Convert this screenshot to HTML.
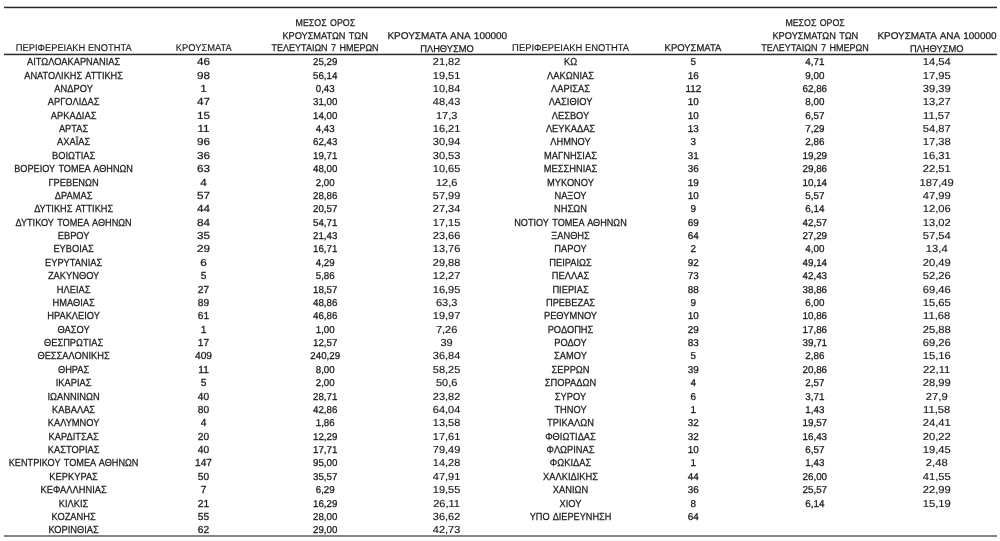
<!DOCTYPE html><html><head><meta charset="utf-8"><style>html,body{margin:0;padding:0;background:#fff;width:1000px;height:541px;overflow:hidden}svg{display:block;will-change:transform}text{font-family:"Liberation Sans",sans-serif;fill:#1a1a1a;stroke:#1a1a1a;text-anchor:middle;text-rendering:geometricPrecision}</style></head><body>
<svg width="1000" height="541" viewBox="0 0 1000 541">
<rect x="4" y="6.7" width="993" height="1.5" fill="#2a2a2a"/>
<rect x="4" y="53.7" width="993" height="1.5" fill="#2a2a2a"/>
<rect x="4" y="535" width="993" height="2" fill="#858585"/>
<text x="73.75" y="51.40" font-size="9.80" stroke-width="0.15" textLength="115.80" lengthAdjust="spacingAndGlyphs">ΠΕΡΙΦΕΡΕΙΑΚΗ ΕΝΟΤΗΤΑ</text>
<text x="203.75" y="51.40" font-size="9.80" stroke-width="0.15" textLength="55.80" lengthAdjust="spacingAndGlyphs">ΚΡΟΥΣΜΑΤΑ</text>
<text x="325.40" y="25.70" font-size="9.80" stroke-width="0.25" word-spacing="1.00" textLength="59.60" lengthAdjust="spacingAndGlyphs">ΜΕΣΟΣ ΟΡΟΣ</text>
<text x="325.10" y="38.70" font-size="9.80" stroke-width="0.25" word-spacing="1.00" textLength="85.40" lengthAdjust="spacingAndGlyphs">ΚΡΟΥΣΜΑΤΩΝ ΤΩΝ</text>
<text x="325.10" y="51.20" font-size="9.80" stroke-width="0.25" word-spacing="1.00" textLength="107.00" lengthAdjust="spacingAndGlyphs">ΤΕΛΕΥΤΑΙΩΝ 7 ΗΜΕΡΩΝ</text>
<text x="447.30" y="39.00" font-size="9.80" stroke-width="0.25" word-spacing="1.00" textLength="119.80" lengthAdjust="spacingAndGlyphs">ΚΡΟΥΣΜΑΤΑ ΑΝΑ 100000</text>
<text x="447.00" y="51.60" font-size="9.80" stroke-width="0.25" word-spacing="1.00" textLength="53.60" lengthAdjust="spacingAndGlyphs">ΠΛΗΘΥΣΜΟ</text>
<text x="570.62" y="51.40" font-size="9.80" stroke-width="0.15" textLength="117.05" lengthAdjust="spacingAndGlyphs">ΠΕΡΙΦΕΡΕΙΑΚΗ ΕΝΟΤΗΤΑ</text>
<text x="693.00" y="51.40" font-size="9.80" stroke-width="0.25" word-spacing="1.00" textLength="56.80" lengthAdjust="spacingAndGlyphs">ΚΡΟΥΣΜΑΤΑ</text>
<text x="815.05" y="25.70" font-size="9.80" stroke-width="0.25" word-spacing="1.00" textLength="59.30" lengthAdjust="spacingAndGlyphs">ΜΕΣΟΣ ΟΡΟΣ</text>
<text x="815.35" y="38.70" font-size="9.80" stroke-width="0.25" word-spacing="1.00" textLength="85.90" lengthAdjust="spacingAndGlyphs">ΚΡΟΥΣΜΑΤΩΝ ΤΩΝ</text>
<text x="815.00" y="51.00" font-size="9.80" stroke-width="0.25" word-spacing="1.00" textLength="107.40" lengthAdjust="spacingAndGlyphs">ΤΕΛΕΥΤΑΙΩΝ 7 ΗΜΕΡΩΝ</text>
<text x="936.95" y="39.00" font-size="9.80" stroke-width="0.25" word-spacing="1.00" textLength="119.10" lengthAdjust="spacingAndGlyphs">ΚΡΟΥΣΜΑΤΑ ΑΝΑ 100000</text>
<text x="936.65" y="51.60" font-size="9.80" stroke-width="0.25" word-spacing="1.00" textLength="53.50" lengthAdjust="spacingAndGlyphs">ΠΛΗΘΥΣΜΟ</text>
<text transform="translate(73.60 65.20) scale(0.9130 1)" font-size="10.20" stroke-width="0.25">ΑΙΤΩΛΟΑΚΑΡΝΑΝΙΑΣ</text>
<text transform="translate(203.50 65.20) scale(1.1500 1)" font-size="10.20" stroke-width="0.22">46</text>
<text transform="translate(325.20 65.20) scale(0.9700 1)" font-size="10.00" stroke-width="0.28">25,29</text>
<text transform="translate(446.60 65.20) scale(1.0800 1)" font-size="10.20" stroke-width="0.15">21,82</text>
<text transform="translate(73.60 78.58) scale(0.9032 1)" font-size="10.20" stroke-width="0.25" word-spacing="1.20">ΑΝΑΤΟΛΙΚΗΣ ΑΤΤΙΚΗΣ</text>
<text transform="translate(203.50 78.58) scale(1.1500 1)" font-size="10.20" stroke-width="0.22">98</text>
<text transform="translate(325.20 78.58) scale(0.9700 1)" font-size="10.00" stroke-width="0.28">56,14</text>
<text transform="translate(446.60 78.58) scale(1.0800 1)" font-size="10.20" stroke-width="0.15">19,51</text>
<text transform="translate(73.60 91.95) scale(0.9130 1)" font-size="10.20" stroke-width="0.25">ΑΝΔΡΟΥ</text>
<text transform="translate(203.50 91.95) scale(1.1500 1)" font-size="10.20" stroke-width="0.22">1</text>
<text transform="translate(325.20 91.95) scale(0.9700 1)" font-size="10.00" stroke-width="0.28">0,43</text>
<text transform="translate(446.60 91.95) scale(1.0800 1)" font-size="10.20" stroke-width="0.15">10,84</text>
<text transform="translate(73.60 105.33) scale(0.9130 1)" font-size="10.20" stroke-width="0.25">ΑΡΓΟΛΙΔΑΣ</text>
<text transform="translate(203.50 105.33) scale(1.1500 1)" font-size="10.20" stroke-width="0.22">47</text>
<text transform="translate(325.20 105.33) scale(0.9700 1)" font-size="10.00" stroke-width="0.28">31,00</text>
<text transform="translate(446.60 105.33) scale(1.0800 1)" font-size="10.20" stroke-width="0.15">48,43</text>
<text transform="translate(73.60 118.70) scale(0.9130 1)" font-size="10.20" stroke-width="0.25">ΑΡΚΑΔΙΑΣ</text>
<text transform="translate(203.50 118.70) scale(1.1500 1)" font-size="10.20" stroke-width="0.22">15</text>
<text transform="translate(325.20 118.70) scale(0.9700 1)" font-size="10.00" stroke-width="0.28">14,00</text>
<text transform="translate(446.60 118.70) scale(1.0800 1)" font-size="10.20" stroke-width="0.15">17,3</text>
<text transform="translate(73.60 132.07) scale(0.9130 1)" font-size="10.20" stroke-width="0.25">ΑΡΤΑΣ</text>
<text transform="translate(203.50 132.07) scale(1.1500 1)" font-size="10.20" stroke-width="0.22">11</text>
<text transform="translate(325.20 132.07) scale(0.9700 1)" font-size="10.00" stroke-width="0.28">4,43</text>
<text transform="translate(446.60 132.07) scale(1.0800 1)" font-size="10.20" stroke-width="0.15">16,21</text>
<text transform="translate(73.60 145.45) scale(0.9130 1)" font-size="10.20" stroke-width="0.25">ΑΧΑΪΑΣ</text>
<text transform="translate(203.50 145.45) scale(1.1500 1)" font-size="10.20" stroke-width="0.22">96</text>
<text transform="translate(325.20 145.45) scale(0.9700 1)" font-size="10.00" stroke-width="0.28">62,43</text>
<text transform="translate(446.60 145.45) scale(1.0800 1)" font-size="10.20" stroke-width="0.15">30,94</text>
<text transform="translate(73.60 158.82) scale(0.9130 1)" font-size="10.20" stroke-width="0.25">ΒΟΙΩΤΙΑΣ</text>
<text transform="translate(203.50 158.82) scale(1.1500 1)" font-size="10.20" stroke-width="0.22">36</text>
<text transform="translate(325.20 158.82) scale(0.9700 1)" font-size="10.00" stroke-width="0.28">19,71</text>
<text transform="translate(446.60 158.82) scale(1.0800 1)" font-size="10.20" stroke-width="0.15">30,53</text>
<text transform="translate(73.60 172.20) scale(0.8967 1)" font-size="10.20" stroke-width="0.25" word-spacing="1.20">ΒΟΡΕΙΟΥ ΤΟΜΕΑ ΑΘΗΝΩΝ</text>
<text transform="translate(203.50 172.20) scale(1.1500 1)" font-size="10.20" stroke-width="0.22">63</text>
<text transform="translate(325.20 172.20) scale(0.9700 1)" font-size="10.00" stroke-width="0.28">48,00</text>
<text transform="translate(446.60 172.20) scale(1.0800 1)" font-size="10.20" stroke-width="0.15">10,65</text>
<text transform="translate(73.60 185.57) scale(0.9130 1)" font-size="10.20" stroke-width="0.25">ΓΡΕΒΕΝΩΝ</text>
<text transform="translate(203.50 185.57) scale(1.1500 1)" font-size="10.20" stroke-width="0.22">4</text>
<text transform="translate(325.20 185.57) scale(0.9700 1)" font-size="10.00" stroke-width="0.28">2,00</text>
<text transform="translate(446.60 185.57) scale(1.0800 1)" font-size="10.20" stroke-width="0.15">12,6</text>
<text transform="translate(73.60 198.95) scale(0.9130 1)" font-size="10.20" stroke-width="0.25">ΔΡΑΜΑΣ</text>
<text transform="translate(203.50 198.95) scale(1.1500 1)" font-size="10.20" stroke-width="0.22">57</text>
<text transform="translate(325.20 198.95) scale(0.9700 1)" font-size="10.00" stroke-width="0.28">28,86</text>
<text transform="translate(446.60 198.95) scale(1.0800 1)" font-size="10.20" stroke-width="0.15">57,99</text>
<text transform="translate(73.60 212.32) scale(0.9008 1)" font-size="10.20" stroke-width="0.25" word-spacing="1.20">ΔΥΤΙΚΗΣ ΑΤΤΙΚΗΣ</text>
<text transform="translate(203.50 212.32) scale(1.1500 1)" font-size="10.20" stroke-width="0.22">44</text>
<text transform="translate(325.20 212.32) scale(0.9700 1)" font-size="10.00" stroke-width="0.28">20,57</text>
<text transform="translate(446.60 212.32) scale(1.0800 1)" font-size="10.20" stroke-width="0.15">27,34</text>
<text transform="translate(73.60 225.70) scale(0.8965 1)" font-size="10.20" stroke-width="0.25" word-spacing="1.20">ΔΥΤΙΚΟΥ ΤΟΜΕΑ ΑΘΗΝΩΝ</text>
<text transform="translate(203.50 225.70) scale(1.1500 1)" font-size="10.20" stroke-width="0.22">84</text>
<text transform="translate(325.20 225.70) scale(0.9700 1)" font-size="10.00" stroke-width="0.28">54,71</text>
<text transform="translate(446.60 225.70) scale(1.0800 1)" font-size="10.20" stroke-width="0.15">17,15</text>
<text transform="translate(73.60 239.07) scale(0.9130 1)" font-size="10.20" stroke-width="0.25">ΕΒΡΟΥ</text>
<text transform="translate(203.50 239.07) scale(1.1500 1)" font-size="10.20" stroke-width="0.22">35</text>
<text transform="translate(325.20 239.07) scale(0.9700 1)" font-size="10.00" stroke-width="0.28">21,43</text>
<text transform="translate(446.60 239.07) scale(1.0800 1)" font-size="10.20" stroke-width="0.15">23,66</text>
<text transform="translate(73.60 252.45) scale(0.9130 1)" font-size="10.20" stroke-width="0.25">ΕΥΒΟΙΑΣ</text>
<text transform="translate(203.50 252.45) scale(1.1500 1)" font-size="10.20" stroke-width="0.22">29</text>
<text transform="translate(325.20 252.45) scale(0.9700 1)" font-size="10.00" stroke-width="0.28">16,71</text>
<text transform="translate(446.60 252.45) scale(1.0800 1)" font-size="10.20" stroke-width="0.15">13,76</text>
<text transform="translate(73.60 265.82) scale(0.9130 1)" font-size="10.20" stroke-width="0.25">ΕΥΡΥΤΑΝΙΑΣ</text>
<text transform="translate(203.50 265.82) scale(1.1500 1)" font-size="10.20" stroke-width="0.22">6</text>
<text transform="translate(325.20 265.82) scale(0.9700 1)" font-size="10.00" stroke-width="0.28">4,29</text>
<text transform="translate(446.60 265.82) scale(1.0800 1)" font-size="10.20" stroke-width="0.15">29,88</text>
<text transform="translate(73.60 279.20) scale(0.9130 1)" font-size="10.20" stroke-width="0.25">ΖΑΚΥΝΘΟΥ</text>
<text transform="translate(203.50 279.20) scale(1.0000 1)" font-size="10.20" stroke-width="0.28">5</text>
<text transform="translate(325.20 279.20) scale(0.9700 1)" font-size="10.00" stroke-width="0.28">5,86</text>
<text transform="translate(446.60 279.20) scale(1.0800 1)" font-size="10.20" stroke-width="0.15">12,27</text>
<text transform="translate(73.60 292.57) scale(0.9130 1)" font-size="10.20" stroke-width="0.25">ΗΛΕΙΑΣ</text>
<text transform="translate(203.50 292.57) scale(1.0000 1)" font-size="10.20" stroke-width="0.28">27</text>
<text transform="translate(325.20 292.57) scale(0.9700 1)" font-size="10.00" stroke-width="0.28">18,57</text>
<text transform="translate(446.60 292.57) scale(1.0800 1)" font-size="10.20" stroke-width="0.15">16,95</text>
<text transform="translate(73.60 305.95) scale(0.9130 1)" font-size="10.20" stroke-width="0.25">ΗΜΑΘΙΑΣ</text>
<text transform="translate(203.50 305.95) scale(1.0000 1)" font-size="10.20" stroke-width="0.28">89</text>
<text transform="translate(325.20 305.95) scale(0.9700 1)" font-size="10.00" stroke-width="0.28">48,86</text>
<text transform="translate(446.60 305.95) scale(1.0800 1)" font-size="10.20" stroke-width="0.15">63,3</text>
<text transform="translate(73.60 319.32) scale(0.9130 1)" font-size="10.20" stroke-width="0.25">ΗΡΑΚΛΕΙΟΥ</text>
<text transform="translate(203.50 319.32) scale(1.0000 1)" font-size="10.20" stroke-width="0.28">61</text>
<text transform="translate(325.20 319.32) scale(0.9700 1)" font-size="10.00" stroke-width="0.28">46,86</text>
<text transform="translate(446.60 319.32) scale(1.0800 1)" font-size="10.20" stroke-width="0.15">19,97</text>
<text transform="translate(73.60 332.70) scale(0.9130 1)" font-size="10.20" stroke-width="0.25">ΘΑΣΟΥ</text>
<text transform="translate(203.50 332.70) scale(1.0000 1)" font-size="10.20" stroke-width="0.28">1</text>
<text transform="translate(325.20 332.70) scale(0.9700 1)" font-size="10.00" stroke-width="0.28">1,00</text>
<text transform="translate(446.60 332.70) scale(1.0800 1)" font-size="10.20" stroke-width="0.15">7,26</text>
<text transform="translate(73.60 346.07) scale(0.9130 1)" font-size="10.20" stroke-width="0.25">ΘΕΣΠΡΩΤΙΑΣ</text>
<text transform="translate(203.50 346.07) scale(1.0000 1)" font-size="10.20" stroke-width="0.28">17</text>
<text transform="translate(325.20 346.07) scale(0.9700 1)" font-size="10.00" stroke-width="0.28">12,57</text>
<text transform="translate(446.60 346.07) scale(1.0800 1)" font-size="10.20" stroke-width="0.15">39</text>
<text transform="translate(73.60 359.45) scale(0.9130 1)" font-size="10.20" stroke-width="0.25">ΘΕΣΣΑΛΟΝΙΚΗΣ</text>
<text transform="translate(203.50 359.45) scale(1.0000 1)" font-size="10.20" stroke-width="0.28">409</text>
<text transform="translate(325.20 359.45) scale(0.9700 1)" font-size="10.00" stroke-width="0.28">240,29</text>
<text transform="translate(446.60 359.45) scale(1.0800 1)" font-size="10.20" stroke-width="0.15">36,84</text>
<text transform="translate(73.60 372.82) scale(0.9130 1)" font-size="10.20" stroke-width="0.25">ΘΗΡΑΣ</text>
<text transform="translate(203.50 372.82) scale(1.0000 1)" font-size="10.20" stroke-width="0.28">11</text>
<text transform="translate(325.20 372.82) scale(0.9700 1)" font-size="10.00" stroke-width="0.28">8,00</text>
<text transform="translate(446.60 372.82) scale(1.0800 1)" font-size="10.20" stroke-width="0.15">58,25</text>
<text transform="translate(73.60 386.20) scale(0.9130 1)" font-size="10.20" stroke-width="0.25">ΙΚΑΡΙΑΣ</text>
<text transform="translate(203.50 386.20) scale(1.0000 1)" font-size="10.20" stroke-width="0.28">5</text>
<text transform="translate(325.20 386.20) scale(0.9700 1)" font-size="10.00" stroke-width="0.28">2,00</text>
<text transform="translate(446.60 386.20) scale(1.0800 1)" font-size="10.20" stroke-width="0.15">50,6</text>
<text transform="translate(73.60 399.57) scale(0.9130 1)" font-size="10.20" stroke-width="0.25">ΙΩΑΝΝΙΝΩΝ</text>
<text transform="translate(203.50 399.57) scale(1.0000 1)" font-size="10.20" stroke-width="0.28">40</text>
<text transform="translate(325.20 399.57) scale(0.9700 1)" font-size="10.00" stroke-width="0.28">28,71</text>
<text transform="translate(446.60 399.57) scale(1.0800 1)" font-size="10.20" stroke-width="0.15">23,82</text>
<text transform="translate(73.60 412.95) scale(0.9130 1)" font-size="10.20" stroke-width="0.25">ΚΑΒΑΛΑΣ</text>
<text transform="translate(203.50 412.95) scale(1.0000 1)" font-size="10.20" stroke-width="0.28">80</text>
<text transform="translate(325.20 412.95) scale(0.9700 1)" font-size="10.00" stroke-width="0.28">42,86</text>
<text transform="translate(446.60 412.95) scale(1.0800 1)" font-size="10.20" stroke-width="0.15">64,04</text>
<text transform="translate(73.60 426.32) scale(0.9130 1)" font-size="10.20" stroke-width="0.25">ΚΑΛΥΜΝΟΥ</text>
<text transform="translate(203.50 426.32) scale(1.0000 1)" font-size="10.20" stroke-width="0.28">4</text>
<text transform="translate(325.20 426.32) scale(0.9700 1)" font-size="10.00" stroke-width="0.28">1,86</text>
<text transform="translate(446.60 426.32) scale(1.0800 1)" font-size="10.20" stroke-width="0.15">13,58</text>
<text transform="translate(73.60 439.70) scale(0.9130 1)" font-size="10.20" stroke-width="0.25">ΚΑΡΔΙΤΣΑΣ</text>
<text transform="translate(203.50 439.70) scale(1.0000 1)" font-size="10.20" stroke-width="0.28">20</text>
<text transform="translate(325.20 439.70) scale(0.9700 1)" font-size="10.00" stroke-width="0.28">12,29</text>
<text transform="translate(446.60 439.70) scale(1.0800 1)" font-size="10.20" stroke-width="0.15">17,61</text>
<text transform="translate(73.60 453.07) scale(0.9130 1)" font-size="10.20" stroke-width="0.25">ΚΑΣΤΟΡΙΑΣ</text>
<text transform="translate(203.50 453.07) scale(1.0000 1)" font-size="10.20" stroke-width="0.28">40</text>
<text transform="translate(325.20 453.07) scale(0.9700 1)" font-size="10.00" stroke-width="0.28">17,71</text>
<text transform="translate(446.60 453.07) scale(1.0800 1)" font-size="10.20" stroke-width="0.15">79,49</text>
<text transform="translate(73.60 466.45) scale(0.8981 1)" font-size="10.20" stroke-width="0.25" word-spacing="1.20">ΚΕΝΤΡΙΚΟΥ ΤΟΜΕΑ ΑΘΗΝΩΝ</text>
<text transform="translate(203.50 466.45) scale(1.0000 1)" font-size="10.20" stroke-width="0.28">147</text>
<text transform="translate(325.20 466.45) scale(0.9700 1)" font-size="10.00" stroke-width="0.28">95,00</text>
<text transform="translate(446.60 466.45) scale(1.0800 1)" font-size="10.20" stroke-width="0.15">14,28</text>
<text transform="translate(73.60 479.82) scale(0.9130 1)" font-size="10.20" stroke-width="0.25">ΚΕΡΚΥΡΑΣ</text>
<text transform="translate(203.50 479.82) scale(1.0000 1)" font-size="10.20" stroke-width="0.28">50</text>
<text transform="translate(325.20 479.82) scale(0.9700 1)" font-size="10.00" stroke-width="0.28">35,57</text>
<text transform="translate(446.60 479.82) scale(1.0800 1)" font-size="10.20" stroke-width="0.15">47,91</text>
<text transform="translate(73.60 493.20) scale(0.9130 1)" font-size="10.20" stroke-width="0.25">ΚΕΦΑΛΛΗΝΙΑΣ</text>
<text transform="translate(203.50 493.20) scale(1.0000 1)" font-size="10.20" stroke-width="0.28">7</text>
<text transform="translate(325.20 493.20) scale(0.9700 1)" font-size="10.00" stroke-width="0.28">6,29</text>
<text transform="translate(446.60 493.20) scale(1.0800 1)" font-size="10.20" stroke-width="0.15">19,55</text>
<text transform="translate(73.60 506.57) scale(0.9130 1)" font-size="10.20" stroke-width="0.25">ΚΙΛΚΙΣ</text>
<text transform="translate(203.50 506.57) scale(1.0000 1)" font-size="10.20" stroke-width="0.28">21</text>
<text transform="translate(325.20 506.57) scale(0.9700 1)" font-size="10.00" stroke-width="0.28">16,29</text>
<text transform="translate(446.60 506.57) scale(1.0800 1)" font-size="10.20" stroke-width="0.15">26,11</text>
<text transform="translate(73.60 519.95) scale(0.9130 1)" font-size="10.20" stroke-width="0.25">ΚΟΖΑΝΗΣ</text>
<text transform="translate(203.50 519.95) scale(1.0000 1)" font-size="10.20" stroke-width="0.28">55</text>
<text transform="translate(325.20 519.95) scale(0.9700 1)" font-size="10.00" stroke-width="0.28">28,00</text>
<text transform="translate(446.60 519.95) scale(1.0800 1)" font-size="10.20" stroke-width="0.15">36,62</text>
<text transform="translate(73.60 533.33) scale(0.9130 1)" font-size="10.20" stroke-width="0.25">ΚΟΡΙΝΘΙΑΣ</text>
<text transform="translate(203.50 533.33) scale(1.0000 1)" font-size="10.20" stroke-width="0.28">62</text>
<text transform="translate(325.20 533.33) scale(0.9700 1)" font-size="10.00" stroke-width="0.28">29,00</text>
<text transform="translate(446.60 533.33) scale(1.0800 1)" font-size="10.20" stroke-width="0.15">42,73</text>
<text transform="translate(570.50 65.20) scale(0.9130 1)" font-size="10.20" stroke-width="0.25">ΚΩ</text>
<text transform="translate(693.30 65.20) scale(0.9900 1)" font-size="10.00" stroke-width="0.28">5</text>
<text transform="translate(814.80 65.20) scale(0.9800 1)" font-size="10.00" stroke-width="0.28">4,71</text>
<text transform="translate(936.70 65.20) scale(1.1000 1)" font-size="10.20" stroke-width="0.15">14,54</text>
<text transform="translate(570.50 78.58) scale(0.9130 1)" font-size="10.20" stroke-width="0.25">ΛΑΚΩΝΙΑΣ</text>
<text transform="translate(693.30 78.58) scale(0.9900 1)" font-size="10.00" stroke-width="0.28">16</text>
<text transform="translate(814.80 78.58) scale(0.9800 1)" font-size="10.00" stroke-width="0.28">9,00</text>
<text transform="translate(936.70 78.58) scale(1.1000 1)" font-size="10.20" stroke-width="0.15">17,95</text>
<text transform="translate(570.50 91.95) scale(0.9130 1)" font-size="10.20" stroke-width="0.25">ΛΑΡΙΣΑΣ</text>
<text transform="translate(693.30 91.95) scale(0.9900 1)" font-size="10.00" stroke-width="0.28">112</text>
<text transform="translate(814.80 91.95) scale(0.9800 1)" font-size="10.00" stroke-width="0.28">62,86</text>
<text transform="translate(936.70 91.95) scale(1.1000 1)" font-size="10.20" stroke-width="0.15">39,39</text>
<text transform="translate(570.50 105.33) scale(0.9130 1)" font-size="10.20" stroke-width="0.25">ΛΑΣΙΘΙΟΥ</text>
<text transform="translate(693.30 105.33) scale(0.9900 1)" font-size="10.00" stroke-width="0.28">10</text>
<text transform="translate(814.80 105.33) scale(0.9800 1)" font-size="10.00" stroke-width="0.28">8,00</text>
<text transform="translate(936.70 105.33) scale(1.1000 1)" font-size="10.20" stroke-width="0.15">13,27</text>
<text transform="translate(570.50 118.70) scale(0.9130 1)" font-size="10.20" stroke-width="0.25">ΛΕΣΒΟΥ</text>
<text transform="translate(693.30 118.70) scale(0.9900 1)" font-size="10.00" stroke-width="0.28">10</text>
<text transform="translate(814.80 118.70) scale(0.9800 1)" font-size="10.00" stroke-width="0.28">6,57</text>
<text transform="translate(936.70 118.70) scale(1.1000 1)" font-size="10.20" stroke-width="0.15">11,57</text>
<text transform="translate(570.50 132.07) scale(0.9130 1)" font-size="10.20" stroke-width="0.25">ΛΕΥΚΑΔΑΣ</text>
<text transform="translate(693.30 132.07) scale(0.9900 1)" font-size="10.00" stroke-width="0.28">13</text>
<text transform="translate(814.80 132.07) scale(0.9800 1)" font-size="10.00" stroke-width="0.28">7,29</text>
<text transform="translate(936.70 132.07) scale(1.1000 1)" font-size="10.20" stroke-width="0.15">54,87</text>
<text transform="translate(570.50 145.45) scale(0.9130 1)" font-size="10.20" stroke-width="0.25">ΛΗΜΝΟΥ</text>
<text transform="translate(693.30 145.45) scale(0.9900 1)" font-size="10.00" stroke-width="0.28">3</text>
<text transform="translate(814.80 145.45) scale(0.9800 1)" font-size="10.00" stroke-width="0.28">2,86</text>
<text transform="translate(936.70 145.45) scale(1.1000 1)" font-size="10.20" stroke-width="0.15">17,38</text>
<text transform="translate(570.50 158.82) scale(0.9130 1)" font-size="10.20" stroke-width="0.25">ΜΑΓΝΗΣΙΑΣ</text>
<text transform="translate(693.30 158.82) scale(0.9900 1)" font-size="10.00" stroke-width="0.28">31</text>
<text transform="translate(814.80 158.82) scale(0.9800 1)" font-size="10.00" stroke-width="0.28">19,29</text>
<text transform="translate(936.70 158.82) scale(1.1000 1)" font-size="10.20" stroke-width="0.15">16,31</text>
<text transform="translate(570.50 172.20) scale(0.9130 1)" font-size="10.20" stroke-width="0.25">ΜΕΣΣΗΝΙΑΣ</text>
<text transform="translate(693.30 172.20) scale(0.9900 1)" font-size="10.00" stroke-width="0.28">36</text>
<text transform="translate(814.80 172.20) scale(0.9800 1)" font-size="10.00" stroke-width="0.28">29,86</text>
<text transform="translate(936.70 172.20) scale(1.1000 1)" font-size="10.20" stroke-width="0.15">22,51</text>
<text transform="translate(570.50 185.57) scale(0.9130 1)" font-size="10.20" stroke-width="0.25">ΜΥΚΟΝΟΥ</text>
<text transform="translate(693.30 185.57) scale(0.9900 1)" font-size="10.00" stroke-width="0.28">19</text>
<text transform="translate(814.80 185.57) scale(0.9800 1)" font-size="10.00" stroke-width="0.28">10,14</text>
<text transform="translate(936.70 185.57) scale(1.1000 1)" font-size="10.20" stroke-width="0.15">187,49</text>
<text transform="translate(570.50 198.95) scale(0.9130 1)" font-size="10.20" stroke-width="0.25">ΝΑΞΟΥ</text>
<text transform="translate(693.30 198.95) scale(0.9900 1)" font-size="10.00" stroke-width="0.28">10</text>
<text transform="translate(814.80 198.95) scale(0.9800 1)" font-size="10.00" stroke-width="0.28">5,57</text>
<text transform="translate(936.70 198.95) scale(1.1000 1)" font-size="10.20" stroke-width="0.15">47,99</text>
<text transform="translate(570.50 212.32) scale(0.9130 1)" font-size="10.20" stroke-width="0.25">ΝΗΣΩΝ</text>
<text transform="translate(693.30 212.32) scale(0.9900 1)" font-size="10.00" stroke-width="0.28">9</text>
<text transform="translate(814.80 212.32) scale(0.9800 1)" font-size="10.00" stroke-width="0.28">6,14</text>
<text transform="translate(936.70 212.32) scale(1.1000 1)" font-size="10.20" stroke-width="0.15">12,06</text>
<text transform="translate(570.50 225.70) scale(0.8959 1)" font-size="10.20" stroke-width="0.25" word-spacing="1.20">ΝΟΤΙΟΥ ΤΟΜΕΑ ΑΘΗΝΩΝ</text>
<text transform="translate(693.30 225.70) scale(0.9900 1)" font-size="10.00" stroke-width="0.28">69</text>
<text transform="translate(814.80 225.70) scale(0.9800 1)" font-size="10.00" stroke-width="0.28">42,57</text>
<text transform="translate(936.70 225.70) scale(1.1000 1)" font-size="10.20" stroke-width="0.15">13,02</text>
<text transform="translate(570.50 239.07) scale(0.9130 1)" font-size="10.20" stroke-width="0.25">ΞΑΝΘΗΣ</text>
<text transform="translate(693.30 239.07) scale(0.9900 1)" font-size="10.00" stroke-width="0.28">64</text>
<text transform="translate(814.80 239.07) scale(0.9800 1)" font-size="10.00" stroke-width="0.28">27,29</text>
<text transform="translate(936.70 239.07) scale(1.1000 1)" font-size="10.20" stroke-width="0.15">57,54</text>
<text transform="translate(570.50 252.45) scale(0.9130 1)" font-size="10.20" stroke-width="0.25">ΠΑΡΟΥ</text>
<text transform="translate(693.30 252.45) scale(0.9900 1)" font-size="10.00" stroke-width="0.28">2</text>
<text transform="translate(814.80 252.45) scale(0.9800 1)" font-size="10.00" stroke-width="0.28">4,00</text>
<text transform="translate(936.70 252.45) scale(1.1000 1)" font-size="10.20" stroke-width="0.15">13,4</text>
<text transform="translate(570.50 265.82) scale(0.9130 1)" font-size="10.20" stroke-width="0.25">ΠΕΙΡΑΙΩΣ</text>
<text transform="translate(693.30 265.82) scale(0.9900 1)" font-size="10.00" stroke-width="0.28">92</text>
<text transform="translate(814.80 265.82) scale(0.9800 1)" font-size="10.00" stroke-width="0.28">49,14</text>
<text transform="translate(936.70 265.82) scale(1.1000 1)" font-size="10.20" stroke-width="0.15">20,49</text>
<text transform="translate(570.50 279.20) scale(0.9130 1)" font-size="10.20" stroke-width="0.25">ΠΕΛΛΑΣ</text>
<text transform="translate(693.30 279.20) scale(0.9900 1)" font-size="10.00" stroke-width="0.28">73</text>
<text transform="translate(814.80 279.20) scale(0.9800 1)" font-size="10.00" stroke-width="0.28">42,43</text>
<text transform="translate(936.70 279.20) scale(1.1000 1)" font-size="10.20" stroke-width="0.15">52,26</text>
<text transform="translate(570.50 292.57) scale(0.9130 1)" font-size="10.20" stroke-width="0.25">ΠΙΕΡΙΑΣ</text>
<text transform="translate(693.30 292.57) scale(0.9900 1)" font-size="10.00" stroke-width="0.28">88</text>
<text transform="translate(814.80 292.57) scale(0.9800 1)" font-size="10.00" stroke-width="0.28">38,86</text>
<text transform="translate(936.70 292.57) scale(1.1000 1)" font-size="10.20" stroke-width="0.15">69,46</text>
<text transform="translate(570.50 305.95) scale(0.9130 1)" font-size="10.20" stroke-width="0.25">ΠΡΕΒΕΖΑΣ</text>
<text transform="translate(693.30 305.95) scale(0.9900 1)" font-size="10.00" stroke-width="0.28">9</text>
<text transform="translate(814.80 305.95) scale(0.9800 1)" font-size="10.00" stroke-width="0.28">6,00</text>
<text transform="translate(936.70 305.95) scale(1.1000 1)" font-size="10.20" stroke-width="0.15">15,65</text>
<text transform="translate(570.50 319.32) scale(0.9130 1)" font-size="10.20" stroke-width="0.25">ΡΕΘΥΜΝΟΥ</text>
<text transform="translate(693.30 319.32) scale(0.9900 1)" font-size="10.00" stroke-width="0.28">10</text>
<text transform="translate(814.80 319.32) scale(0.9800 1)" font-size="10.00" stroke-width="0.28">10,86</text>
<text transform="translate(936.70 319.32) scale(1.1000 1)" font-size="10.20" stroke-width="0.15">11,68</text>
<text transform="translate(570.50 332.70) scale(0.9130 1)" font-size="10.20" stroke-width="0.25">ΡΟΔΟΠΗΣ</text>
<text transform="translate(693.30 332.70) scale(0.9900 1)" font-size="10.00" stroke-width="0.28">29</text>
<text transform="translate(814.80 332.70) scale(0.9800 1)" font-size="10.00" stroke-width="0.28">17,86</text>
<text transform="translate(936.70 332.70) scale(1.1000 1)" font-size="10.20" stroke-width="0.15">25,88</text>
<text transform="translate(570.50 346.07) scale(0.9130 1)" font-size="10.20" stroke-width="0.25">ΡΟΔΟΥ</text>
<text transform="translate(693.30 346.07) scale(0.9900 1)" font-size="10.00" stroke-width="0.28">83</text>
<text transform="translate(814.80 346.07) scale(0.9800 1)" font-size="10.00" stroke-width="0.28">39,71</text>
<text transform="translate(936.70 346.07) scale(1.1000 1)" font-size="10.20" stroke-width="0.15">69,26</text>
<text transform="translate(570.50 359.45) scale(0.9130 1)" font-size="10.20" stroke-width="0.25">ΣΑΜΟΥ</text>
<text transform="translate(693.30 359.45) scale(0.9900 1)" font-size="10.00" stroke-width="0.28">5</text>
<text transform="translate(814.80 359.45) scale(0.9800 1)" font-size="10.00" stroke-width="0.28">2,86</text>
<text transform="translate(936.70 359.45) scale(1.1000 1)" font-size="10.20" stroke-width="0.15">15,16</text>
<text transform="translate(570.50 372.82) scale(0.9130 1)" font-size="10.20" stroke-width="0.25">ΣΕΡΡΩΝ</text>
<text transform="translate(693.30 372.82) scale(0.9900 1)" font-size="10.00" stroke-width="0.28">39</text>
<text transform="translate(814.80 372.82) scale(0.9800 1)" font-size="10.00" stroke-width="0.28">20,86</text>
<text transform="translate(936.70 372.82) scale(1.1000 1)" font-size="10.20" stroke-width="0.15">22,11</text>
<text transform="translate(570.50 386.20) scale(0.9130 1)" font-size="10.20" stroke-width="0.25">ΣΠΟΡΑΔΩΝ</text>
<text transform="translate(693.30 386.20) scale(0.9900 1)" font-size="10.00" stroke-width="0.28">4</text>
<text transform="translate(814.80 386.20) scale(0.9800 1)" font-size="10.00" stroke-width="0.28">2,57</text>
<text transform="translate(936.70 386.20) scale(1.1000 1)" font-size="10.20" stroke-width="0.15">28,99</text>
<text transform="translate(570.50 399.57) scale(0.9130 1)" font-size="10.20" stroke-width="0.25">ΣΥΡΟΥ</text>
<text transform="translate(693.30 399.57) scale(0.9900 1)" font-size="10.00" stroke-width="0.28">6</text>
<text transform="translate(814.80 399.57) scale(0.9800 1)" font-size="10.00" stroke-width="0.28">3,71</text>
<text transform="translate(936.70 399.57) scale(1.1000 1)" font-size="10.20" stroke-width="0.15">27,9</text>
<text transform="translate(570.50 412.95) scale(0.9130 1)" font-size="10.20" stroke-width="0.25">ΤΗΝΟΥ</text>
<text transform="translate(693.30 412.95) scale(0.9900 1)" font-size="10.00" stroke-width="0.28">1</text>
<text transform="translate(814.80 412.95) scale(0.9800 1)" font-size="10.00" stroke-width="0.28">1,43</text>
<text transform="translate(936.70 412.95) scale(1.1000 1)" font-size="10.20" stroke-width="0.15">11,58</text>
<text transform="translate(570.50 426.32) scale(0.9130 1)" font-size="10.20" stroke-width="0.25">ΤΡΙΚΑΛΩΝ</text>
<text transform="translate(693.30 426.32) scale(0.9900 1)" font-size="10.00" stroke-width="0.28">32</text>
<text transform="translate(814.80 426.32) scale(0.9800 1)" font-size="10.00" stroke-width="0.28">19,57</text>
<text transform="translate(936.70 426.32) scale(1.1000 1)" font-size="10.20" stroke-width="0.15">24,41</text>
<text transform="translate(570.50 439.70) scale(0.9130 1)" font-size="10.20" stroke-width="0.25">ΦΘΙΩΤΙΔΑΣ</text>
<text transform="translate(693.30 439.70) scale(0.9900 1)" font-size="10.00" stroke-width="0.28">32</text>
<text transform="translate(814.80 439.70) scale(0.9800 1)" font-size="10.00" stroke-width="0.28">16,43</text>
<text transform="translate(936.70 439.70) scale(1.1000 1)" font-size="10.20" stroke-width="0.15">20,22</text>
<text transform="translate(570.50 453.07) scale(0.9130 1)" font-size="10.20" stroke-width="0.25">ΦΛΩΡΙΝΑΣ</text>
<text transform="translate(693.30 453.07) scale(0.9900 1)" font-size="10.00" stroke-width="0.28">10</text>
<text transform="translate(814.80 453.07) scale(0.9800 1)" font-size="10.00" stroke-width="0.28">6,57</text>
<text transform="translate(936.70 453.07) scale(1.1000 1)" font-size="10.20" stroke-width="0.15">19,45</text>
<text transform="translate(570.50 466.45) scale(0.9130 1)" font-size="10.20" stroke-width="0.25">ΦΩΚΙΔΑΣ</text>
<text transform="translate(693.30 466.45) scale(0.9900 1)" font-size="10.00" stroke-width="0.28">1</text>
<text transform="translate(814.80 466.45) scale(0.9800 1)" font-size="10.00" stroke-width="0.28">1,43</text>
<text transform="translate(936.70 466.45) scale(1.1000 1)" font-size="10.20" stroke-width="0.15">2,48</text>
<text transform="translate(570.50 479.82) scale(0.9130 1)" font-size="10.20" stroke-width="0.25">ΧΑΛΚΙΔΙΚΗΣ</text>
<text transform="translate(693.30 479.82) scale(0.9900 1)" font-size="10.00" stroke-width="0.28">44</text>
<text transform="translate(814.80 479.82) scale(0.9800 1)" font-size="10.00" stroke-width="0.28">26,00</text>
<text transform="translate(936.70 479.82) scale(1.1000 1)" font-size="10.20" stroke-width="0.15">41,55</text>
<text transform="translate(570.50 493.20) scale(0.9130 1)" font-size="10.20" stroke-width="0.25">ΧΑΝΙΩΝ</text>
<text transform="translate(693.30 493.20) scale(0.9900 1)" font-size="10.00" stroke-width="0.28">36</text>
<text transform="translate(814.80 493.20) scale(0.9800 1)" font-size="10.00" stroke-width="0.28">25,57</text>
<text transform="translate(936.70 493.20) scale(1.1000 1)" font-size="10.20" stroke-width="0.15">22,99</text>
<text transform="translate(570.50 506.57) scale(0.9130 1)" font-size="10.20" stroke-width="0.25">ΧΙΟΥ</text>
<text transform="translate(693.30 506.57) scale(0.9900 1)" font-size="10.00" stroke-width="0.28">8</text>
<text transform="translate(814.80 506.57) scale(0.9800 1)" font-size="10.00" stroke-width="0.28">6,14</text>
<text transform="translate(936.70 506.57) scale(1.1000 1)" font-size="10.20" stroke-width="0.15">15,19</text>
<text transform="translate(570.50 519.95) scale(0.9010 1)" font-size="10.20" stroke-width="0.25" word-spacing="1.20">ΥΠΟ ΔΙΕΡΕΥΝΗΣΗ</text>
<text transform="translate(693.30 519.95) scale(0.9900 1)" font-size="10.00" stroke-width="0.28">64</text>
</svg></body></html>
